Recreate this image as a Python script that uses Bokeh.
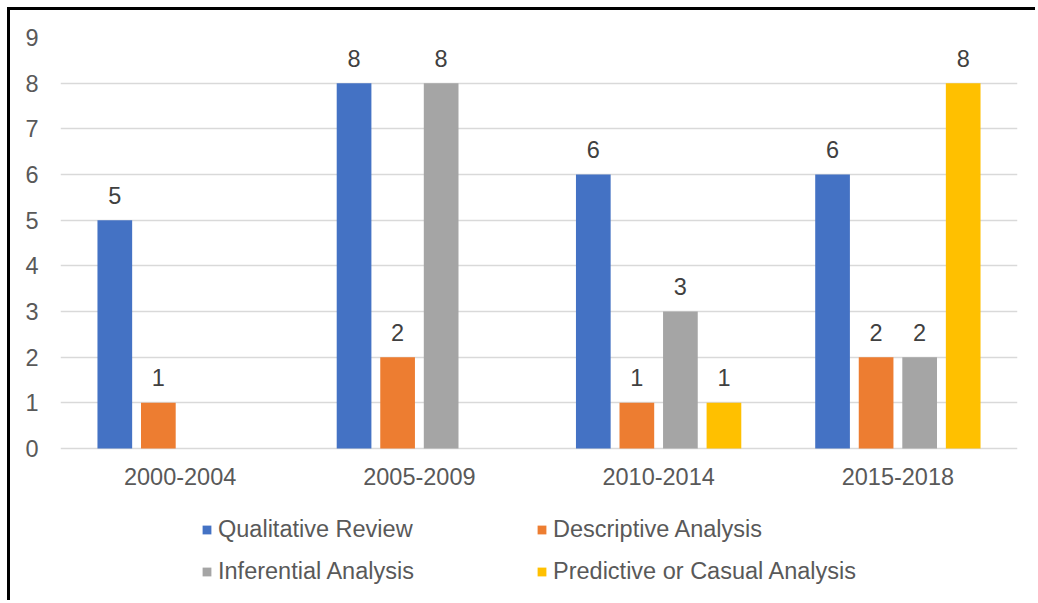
from bokeh.plotting import figure
from bokeh.models import ColumnDataSource, FactorRange, Legend, LegendItem, LabelSet
from bokeh.transform import dodge
from bokeh.core.properties import value
from bokeh.embed import file_html
from bokeh.resources import INLINE

periods = ["2000-2004", "2005-2009", "2010-2014", "2015-2018"]
series_names = ["Qualitative Review", "Descriptive Analysis", "Inferential Analysis", "Predictive or Casual Analysis"]
qualitative = [5, 8, 6, 6]
descriptive = [1, 2, 1, 2]
inferential = [0, 8, 3, 2]
predictive = [0, 0, 1, 8]
colors = ["#4472C4", "#ED7D31", "#A5A5A5", "#FFC000"]
offsets = [-0.273, -0.091, 0.091, 0.273]
y_ticks = list(range(0, 10))

FONT = "Liberation Sans"
FS = "23.5px"

p = figure(x_range=FactorRange(*periods, range_padding=0), y_range=(-3.394, 9),
           width=1028, height=593, output_backend="svg", toolbar_location=None,
           min_border_left=50, min_border_right=21, min_border_top=27, min_border_bottom=0,
           margin=(7, 0, 0, 7),
           styles={"border-left": "3px solid black", "border-top": "3px solid black",
                   "border-right": "none", "border-bottom": "none"})
p.outline_line_color = None
p.background_fill_color = "white"

data = {"period": periods}
all_vals = [qualitative, descriptive, inferential, predictive]
for i, vals in enumerate(all_vals):
    data[f"s{i}"] = vals
src = ColumnDataSource(data)

renderers = []
for i, vals in enumerate(all_vals):
    r = p.vbar(x=dodge("period", offsets[i], range=p.x_range), top=f"s{i}", width=0.145,
               source=src, fill_color=colors[i], line_color=None)
    renderers.append(r)
    lx = [periods[j] for j in range(len(periods)) if vals[j] > 0]
    ly = [v for v in vals if v > 0]
    lt = [str(v) for v in ly]
    lsrc = ColumnDataSource(dict(x=lx, y=ly, t=lt))
    labels = LabelSet(x=dodge("x", offsets[i], range=p.x_range), y="y", text="t", source=lsrc,
                      text_align="center", text_baseline="middle", y_offset=25,
                      text_font=value(FONT), text_font_size=FS, text_color="#404040")
    p.add_layout(labels)

# category labels under the zero line
csrc = ColumnDataSource(dict(x=periods, y=[0] * len(periods), t=periods))
p.add_layout(LabelSet(x="x", y="y", text="t", source=csrc, text_align="center",
                      text_baseline="middle", y_offset=-28, text_font=value(FONT),
                      text_font_size=FS, text_color="#595959"))
p.xaxis.visible = False

p.yaxis.ticker = y_ticks
p.yaxis.axis_line_color = None
p.yaxis.major_tick_line_color = None
p.yaxis.minor_tick_line_color = None
p.yaxis.major_tick_out = 0
p.yaxis.major_tick_in = 0
p.yaxis.major_label_standoff = 22
p.yaxis.major_label_text_font = FONT
p.yaxis.major_label_text_font_size = FS
p.yaxis.major_label_text_color = "#595959"
p.xgrid.grid_line_color = None
p.ygrid.grid_line_color = "#D9D9D9"
p.ygrid.grid_line_width = 1.5

# legend is filled column by column: column 1 = Qualitative, Inferential; column 2 = Descriptive, Predictive
legend_order = [0, 2, 1, 3]
items = [LegendItem(label=series_names[i], renderers=[renderers[i]]) for i in legend_order]
legend = Legend(items=items, ncols=2, location=(141, 18),
                label_text_font=FONT, label_text_font_size=FS, label_text_color="#595959",
                glyph_width=11, glyph_height=11, label_standoff=6, spacing=15, label_width=303,
                padding=0, margin=0, border_line_color=None, background_fill_alpha=0)
p.add_layout(legend, "center")

open("out.html", "w").write(file_html(p, INLINE))
